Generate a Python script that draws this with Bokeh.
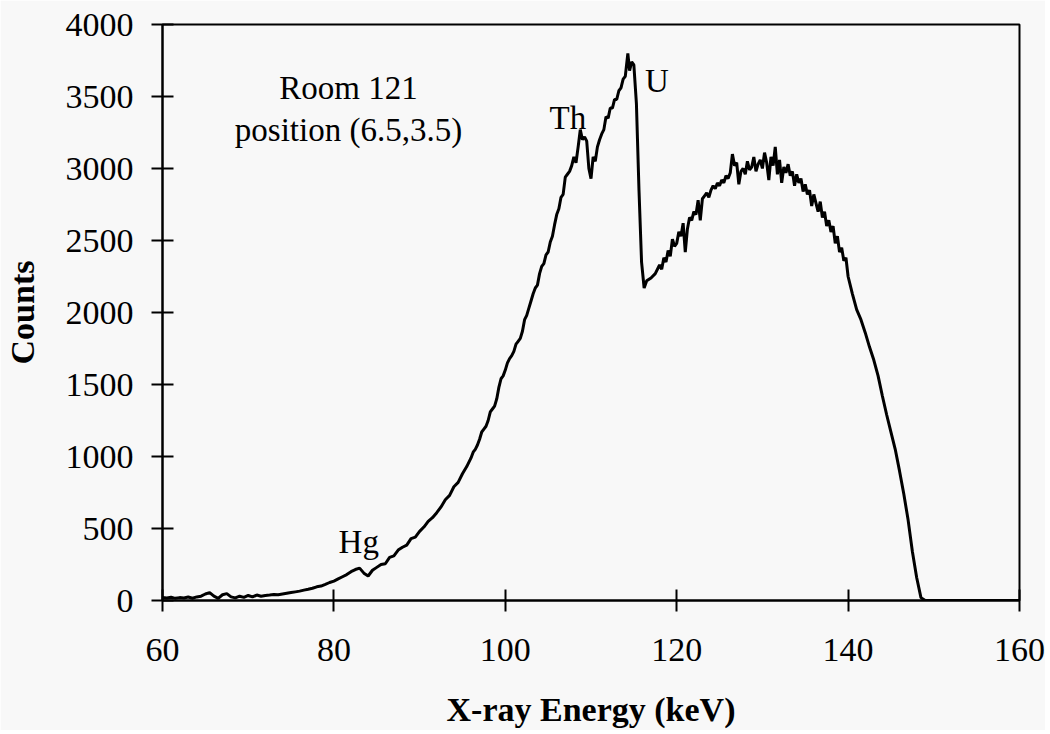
from bokeh.plotting import figure
from bokeh.models import ColumnDataSource, FixedTicker, Range1d
from bokeh.core.properties import value
from bokeh.embed import file_html
from bokeh.resources import INLINE

# Spectrum (energy in keV, counts)
energy_low = [60.0, 60.5, 61.0, 61.5, 62.0, 62.5, 63.0, 63.5, 64.0, 64.5, 65.0, 65.5, 66.0, 66.5,
              67.0, 67.5, 68.0, 68.5, 69.0, 69.5, 70.0, 70.5, 71.0, 71.5, 72.0, 72.5, 73.0, 73.5,
              74.0, 74.5, 75.0, 75.5, 76.0, 76.5, 77.0, 77.5, 78.0, 78.5, 79.0, 79.5, 80.0, 80.5,
              81.0, 81.5, 82.0, 82.5, 83.0, 83.5, 84.0, 84.5, 85.0, 85.5, 86.0, 86.5, 87.0, 87.5,
              88.0, 88.5, 89.0, 89.5, 90.0, 90.5, 91.0, 91.5, 92.0, 92.5, 93.0, 93.5, 94.0, 94.5,
              95.0, 95.5]
counts_low = [20, 18, 22, 15, 20, 18, 24, 16, 25, 30, 45, 55, 30, 15,
              40, 48, 25, 18, 30, 22, 35, 25, 38, 30, 35, 38, 42, 40,
              45, 50, 55, 60, 65, 72, 78, 85, 95, 100, 112, 125, 135, 150,
              165, 180, 200, 215, 225, 190, 170, 210, 230, 250, 255, 300, 310, 350,
              370, 385, 430, 440, 480, 510, 550, 575, 610, 650, 700, 730, 790, 820,
              880, 930]

energy_mid = [96.0, 96.25, 96.5, 96.75, 97.0, 97.25, 97.5, 97.75, 98.0, 98.25, 98.5, 98.75,
              99.0, 99.25, 99.5, 99.75, 100.0, 100.25, 100.5, 100.75, 101.0, 101.25, 101.5,
              101.75, 102.0, 102.25, 102.5, 102.75, 103.0, 103.25, 103.5, 103.75, 104.0,
              104.25, 104.5, 104.75, 105.0, 105.25, 105.5, 105.75, 106.0, 106.25, 106.5,
              106.75, 107.0, 107.25, 107.5, 107.75, 108.0, 108.25, 108.5, 108.75, 109.0,
              109.25, 109.5, 109.75, 110.0, 110.25, 110.5, 110.75, 111.0, 111.25, 111.5,
              111.75, 112.0, 112.25, 112.5, 112.75, 113.0, 113.25, 113.5, 113.75, 114.0,
              114.3, 114.5, 114.75, 115.0, 115.3, 115.6, 115.9, 116.2, 116.5, 117.0, 117.5]
counts_mid = [990, 1030, 1050, 1080, 1120, 1170, 1190, 1210, 1250, 1310, 1330, 1350,
              1400, 1480, 1540, 1560, 1600, 1650, 1680, 1700, 1730, 1780, 1800,
              1820, 1870, 1950, 1980, 2030, 2080, 2130, 2170, 2190, 2270,
              2320, 2340, 2400, 2420, 2490, 2530, 2610, 2680, 2720, 2800,
              2820, 2940, 2960, 2980, 3020, 3080, 3040, 3150, 3270, 3200,
              3220, 3190, 3000, 2930, 3080, 3050, 3150, 3200, 3240, 3270,
              3360, 3350, 3420, 3420, 3480, 3480, 3540, 3560, 3620, 3640,
              3800, 3680, 3740, 3720, 3450, 2850, 2350, 2170, 2220, 2240, 2270]

energy_high = [118.0, 118.25, 118.5, 118.75, 119.0, 119.25, 119.5, 119.75, 120.0, 120.25,
               120.5, 120.75, 121.0, 121.25, 121.5, 121.75, 122.0, 122.25, 122.5, 122.75,
               123.0, 123.25, 123.5, 123.75, 124.0, 124.25, 124.5, 124.75, 125.0, 125.25,
               125.5, 125.75, 126.0, 126.25, 126.5, 126.75, 127.0, 127.25, 127.5, 127.75,
               128.0, 128.25, 128.5, 128.75, 129.0, 129.25, 129.5, 129.75, 130.0, 130.25,
               130.5, 130.75, 131.0, 131.25, 131.5, 131.75, 132.0, 132.25, 132.5, 132.75,
               133.0, 133.25, 133.5, 133.75, 134.0, 134.25, 134.5, 134.75, 135.0, 135.25,
               135.5, 135.75, 136.0, 136.25, 136.5, 136.75, 137.0, 137.25, 137.5, 137.75,
               138.0, 138.25, 138.5, 138.75, 139.0, 139.25, 139.5, 139.75, 140.0, 140.5,
               141.0, 141.5, 142.0, 142.5, 143.0, 143.5, 144.0, 144.5, 145.0, 145.5, 146.0,
               146.5, 147.0, 147.5, 148.0, 148.5, 149.0, 160.0]
counts_high = [2330, 2300, 2380, 2350, 2430, 2390, 2510, 2460, 2480, 2560,
               2530, 2620, 2420, 2580, 2660, 2640, 2700, 2680, 2780, 2640,
               2790, 2810, 2830, 2800, 2850, 2880, 2860, 2900, 2880, 2920,
               2900, 2950, 2930, 2970, 3100, 3020, 3040, 2890, 2980, 3000,
               2960, 3050, 2990, 3010, 3080, 2980, 3030, 3060, 3000, 3110,
               3040, 2920, 3080, 3020, 3150, 2960, 3060, 2900, 3010, 2970,
               3030, 2950, 2980, 2880, 2960, 2900, 2930, 2840, 2890, 2820,
               2850, 2740, 2820, 2760, 2700, 2770, 2660, 2700, 2600, 2640,
               2560, 2600, 2480, 2530, 2420, 2450, 2360, 2380, 2250, 2130,
               2020, 1950, 1860, 1760, 1670, 1560, 1420, 1290, 1170, 1050, 900,
               740, 560, 340, 160, 20, 0, 0]

x_ticks = [60, 80, 100, 120, 140, 160]
y_ticks = [0, 500, 1000, 1500, 2000, 2500, 3000, 3500, 4000]

label_text = ["Room 121", "position (6.5,3.5)", "Th", "U", "Hg"]
label_x = [81.7, 81.7, 107.3, 117.7, 82.9]
label_y = [3562, 3264, 3354, 3611, 403]

energy = energy_low + energy_mid + energy_high
counts = counts_low + counts_mid + counts_high

BG = "#f8f8f8"
SERIF = "Liberation Serif"

p = figure(width=1045, height=730, output_backend="svg", toolbar_location=None,
           x_range=Range1d(60, 160), y_range=Range1d(0, 4000),
           background_fill_color=BG, border_fill_color=BG,
           min_border_left=159, min_border_right=26, min_border_top=24, min_border_bottom=130)

p.line(x=energy, y=counts, line_color="black", line_width=3)

src = ColumnDataSource(dict(x=label_x, y=label_y, t=label_text))
p.text(x="x", y="y", text="t", source=src, text_align="center", text_baseline="alphabetic",
       text_font=value(SERIF), text_font_size="33px", text_color="black")

p.grid.visible = False
p.outline_line_color = "black"
p.outline_line_width = 2

for ax in (p.xaxis[0], p.yaxis[0]):
    ax.axis_line_width = 2
    ax.axis_line_color = "black"
    ax.major_tick_line_width = 2
    ax.major_tick_in = 11
    ax.major_tick_out = 11
    ax.minor_tick_line_color = None
    ax.major_label_text_font = SERIF
    ax.major_label_text_font_size = "34px"
    ax.major_label_text_color = "black"
    ax.axis_label_text_font = SERIF
    ax.axis_label_text_font_size = "34px"
    ax.axis_label_text_font_style = "bold"
    ax.axis_label_text_color = "black"

p.xaxis.ticker = FixedTicker(ticks=x_ticks)
p.yaxis.ticker = FixedTicker(ticks=y_ticks)
p.xaxis.axis_label = "X-ray Energy (keV)"
p.yaxis.axis_label = "Counts"
p.xaxis.major_label_standoff = 27
p.yaxis.major_label_standoff = 18
p.xaxis.axis_label_standoff = 27
p.yaxis.axis_label_standoff = 22

open("out.html", "w").write(file_html(p, INLINE))
